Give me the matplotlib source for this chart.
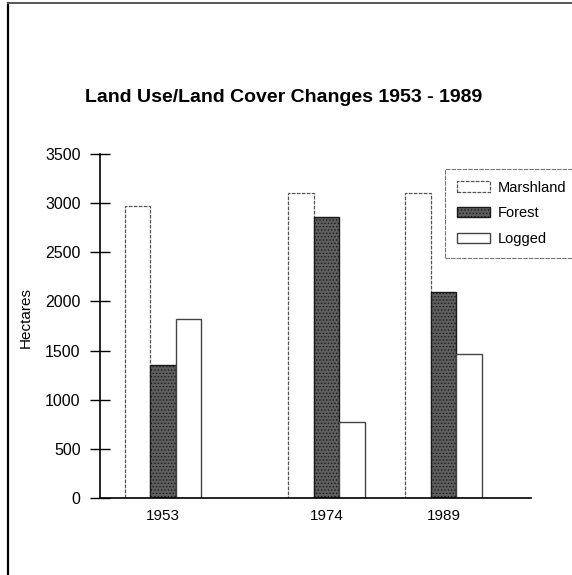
import matplotlib
matplotlib.use("Agg")
import matplotlib.pyplot as plt
from matplotlib.lines import Line2D
import numpy as np

years = ["1953", "1974", "1989"]
series = ["Marshland", "Forest", "Logged"]
marshland = [2970, 3100, 3100]
forest = [1350, 2860, 2100]
logged = [1820, 770, 1470]
yticks = [0, 500, 1000, 1500, 2000, 2500, 3000, 3500]

plt.rcParams['font.family'] = ['Liberation Sans', 'DejaVu Sans']
plt.rcParams['hatch.linewidth'] = 0.6

fig = plt.figure(figsize=(5.72, 5.75), dpi=100)
W, H = 572, 575
ax = fig.add_axes([100 / W, (H - 498) / H, (531 - 100) / W, (498 - 154) / H])

group_pos = np.array([0.0, 0.997, 1.71])
w = 0.1555

ax.bar(group_pos - w, marshland, w, facecolor='white', edgecolor='#555555',
       linewidth=0.9, linestyle=(0, (3, 1)), label=series[0])
ax.bar(group_pos, forest, w, facecolor='#5e5e5e', edgecolor='#1a1a1a',
       linewidth=1.0, hatch='.....', label=series[1])
ax.bar(group_pos + w, logged, w, facecolor='white', edgecolor='#444444',
       linewidth=1.0, label=series[2])

ax.set_xlim(-0.384, 2.244)
ax.set_ylim(0, 3500)
ax.set_yticks(yticks)
ax.set_yticklabels([str(v) for v in yticks], fontsize=11.5)
ax.tick_params(axis='y', direction='inout', length=14, width=1, pad=7)
ax.set_xticks(group_pos)
ax.set_xticklabels(years, fontsize=11)
ax.tick_params(axis='x', length=0, pad=8)

for s in ['top', 'right']:
    ax.spines[s].set_visible(False)
ax.spines['left'].set_linewidth(1.2)
ax.spines['bottom'].set_linewidth(1.2)

ax.set_ylabel("Hectares", fontsize=11)
ax.yaxis.set_label_coords(-0.155, 0.526)

fig.text(284 / W, 1 - 98 / H, "Land Use/Land Cover Changes 1953 - 1989",
         ha='center', va='center', fontsize=14, fontweight='bold')

leg = fig.legend(loc='upper left', bbox_to_anchor=(445 / W, 1 - 169 / H),
                 fontsize=10.5, frameon=True, fancybox=False,
                 handlelength=2.26, handleheight=0.7, labelspacing=0.8,
                 handletextpad=0.55, borderpad=0.8, borderaxespad=0)
leg.get_frame().set_edgecolor('#555555')
leg.get_frame().set_linestyle((0, (4, 1)))
leg.get_frame().set_linewidth(0.8)

# scanned page frame
fig.add_artist(Line2D([7.5 / W, 7.5 / W], [0, 1 - 3 / H], transform=fig.transFigure,
                      color='black', linewidth=1.6))
fig.add_artist(Line2D([7.5 / W, 1], [1 - 3 / H, 1 - 3 / H], transform=fig.transFigure,
                      color='#555555', linewidth=1.4))

fig.savefig("out.png", dpi=100)
